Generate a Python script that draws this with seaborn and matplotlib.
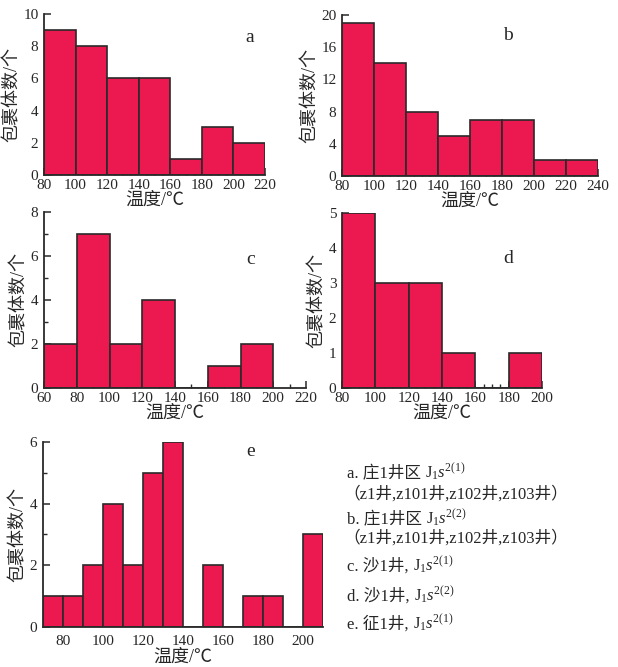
import matplotlib
matplotlib.use("Agg")
import matplotlib.pyplot as plt
import seaborn as sns
from matplotlib.ticker import MultipleLocator

# ---------------- data ----------------
a_edges = [80, 100, 120, 140, 160, 180, 200, 220]
a_counts = [9, 8, 6, 6, 1, 3, 2]

b_edges = [80, 100, 120, 140, 160, 180, 200, 220, 240]
b_counts = [19, 14, 8, 5, 7, 7, 2, 2]

c_edges = [60, 80, 100, 120, 140, 160, 180, 200]
c_counts = [2, 7, 2, 4, 0, 1, 2]

d_edges = [80, 100, 120, 140, 160, 180, 200]
d_counts = [5, 3, 3, 1, 0, 1]

e_edges = [70, 80, 90, 100, 110, 120, 130, 140, 150, 160, 170, 180, 190, 200, 210]
e_counts = [1, 1, 2, 4, 2, 5, 6, 0, 2, 0, 1, 1, 0, 3]

panel_letters = ["a", "b", "c", "d", "e"]
ylabel_text = "包裹体数/个"
xlabel_text = "温度/℃"

legend_plain = ["a. 庄1井区 ", "（z1井,z101井,z102井,z103井）",
                "b. 庄1井区 ", "（z1井,z101井,z102井,z103井）",
                "c. 沙1井, ", "d. 沙1井, ", "e. 征1井, "]
legend_math = [r"$\mathrm{J}_{1}s^{\mathrm{2(1)}}$", "",
               r"$\mathrm{J}_{1}s^{\mathrm{2(2)}}$", "",
               r"$\mathrm{J}_{1}s^{\mathrm{2(1)}}$", r"$\mathrm{J}_{1}s^{\mathrm{2(2)}}$",
               r"$\mathrm{J}_{1}s^{\mathrm{2(1)}}$"]

# ---------------- style ----------------
sns.set_style("ticks")
FAM = ["Liberation Serif", "Noto Sans CJK SC", "DejaVu Sans"]
plt.rcParams["font.family"] = FAM
plt.rcParams["mathtext.fontset"] = "custom"
plt.rcParams["mathtext.rm"] = "Liberation Serif"
plt.rcParams["mathtext.it"] = "Liberation Serif:italic"
plt.rcParams["axes.unicode_minus"] = False

FILL = "#EC1850"
EDGE = "#2a2a2a"
TXT = "#262626"

fig = plt.figure(figsize=(6.18, 6.67), dpi=100)

# axes rectangles (figure fractions)
rects = {
    "a": [0.0712, 0.7376, 0.3576, 0.2414],
    "b": [0.5534, 0.7361, 0.4142, 0.2414],
    "c": [0.0712, 0.4183, 0.4240, 0.2639],
    "d": [0.5534, 0.4183, 0.3236, 0.2624],
    "e": [0.0696, 0.0600, 0.4531, 0.2774],
}

specs = {
    "a": dict(edges=a_edges, counts=a_counts, xlim=(80, 220), ylim=(0, 10),
              xmaj=20, xmin=5, ymaj=2, ymin=1, lab=(0.93, 0.857), xt=True),
    "b": dict(edges=b_edges, counts=b_counts, xlim=(80, 240), ylim=(0, 20),
              xmaj=20, xmin=5, ymaj=4, ymin=2, lab=(0.65, 0.87), xt=True),
    "c": dict(edges=c_edges, counts=c_counts, xlim=(60, 220), ylim=(0, 8),
              xmaj=20, xmin=10, ymaj=2, ymin=1, lab=(0.79, 0.73), xt=True),
    "d": dict(edges=d_edges, counts=d_counts, xlim=(80, 200), ylim=(0, 5),
              xmaj=20, xmin=5, ymaj=1, ymin=0.5, lab=(0.83, 0.74), xt=True),
    "e": dict(edges=e_edges, counts=e_counts, xlim=(70, 210), ylim=(0, 6),
              xmaj=20, xmin=None, ymaj=2, ymin=1, lab=(0.74, 0.946), xt=False),
}

for key in panel_letters:
    s = specs[key]
    ax = fig.add_axes(rects[key])
    sns.histplot(x=s["edges"][:-1], weights=s["counts"], bins=s["edges"], ax=ax,
                 color=FILL, edgecolor=EDGE, linewidth=1.2, alpha=1)
    ax.set_xlim(*s["xlim"])
    ax.set_ylim(*s["ylim"])
    if key == "e":
        ax.set_xticks([80, 100, 120, 140, 160, 180, 200])
    else:
        ax.xaxis.set_major_locator(MultipleLocator(s["xmaj"]))
    if s["xmin"]:
        ax.xaxis.set_minor_locator(MultipleLocator(s["xmin"]))
    ax.yaxis.set_major_locator(MultipleLocator(s["ymaj"]))
    ax.yaxis.set_minor_locator(MultipleLocator(s["ymin"]))
    for sp in ["top", "right"]:
        ax.spines[sp].set_visible(False)
    for sp in ["left", "bottom"]:
        ax.spines[sp].set_linewidth(1.3)
        ax.spines[sp].set_color(EDGE)
    ax.tick_params(which="major", direction="in", length=5, width=1.1,
                   color=EDGE, labelsize=11, labelcolor=TXT)
    ax.tick_params(axis="y", which="major", pad=4)
    ax.tick_params(axis="x", which="major", pad=3)
    ax.tick_params(which="minor", direction="in", length=3, width=1.0, color=EDGE)
    if not s["xt"]:
        ax.tick_params(axis="x", which="both", length=0, pad=6)
    ax.set_ylabel(ylabel_text, fontsize=13, color=TXT, labelpad=2)
    ax.set_xlabel(xlabel_text, fontsize=13, color=TXT, labelpad=0)
    ax.text(s["lab"][0], s["lab"][1], key, transform=ax.transAxes,
            fontsize=14, color=TXT, ha="center", va="center")
    ax.patch.set_alpha(0)

# ---------------- legend text block ----------------
leg_x = 347 / 618
leg_y_px = [478, 499, 524, 543, 571, 601, 629]
fig.canvas.draw()
renderer = fig.canvas.get_renderer()
for plain, math, ypx in zip(legend_plain, legend_math, leg_y_px):
    yf = 1 - ypx / 667
    xoff = leg_x if not plain.startswith("（") else leg_x - 4 / 618
    t = fig.text(xoff, yf, plain, fontsize=12, color=TXT, va="baseline",
                 ha="left", family=FAM)
    if math:
        bb = t.get_window_extent(renderer=renderer)
        x2 = bb.x1 / fig.bbox.width
        fig.text(x2, yf, math, fontsize=12, color=TXT, va="baseline", ha="left")

fig.savefig("out.png", dpi=100)
